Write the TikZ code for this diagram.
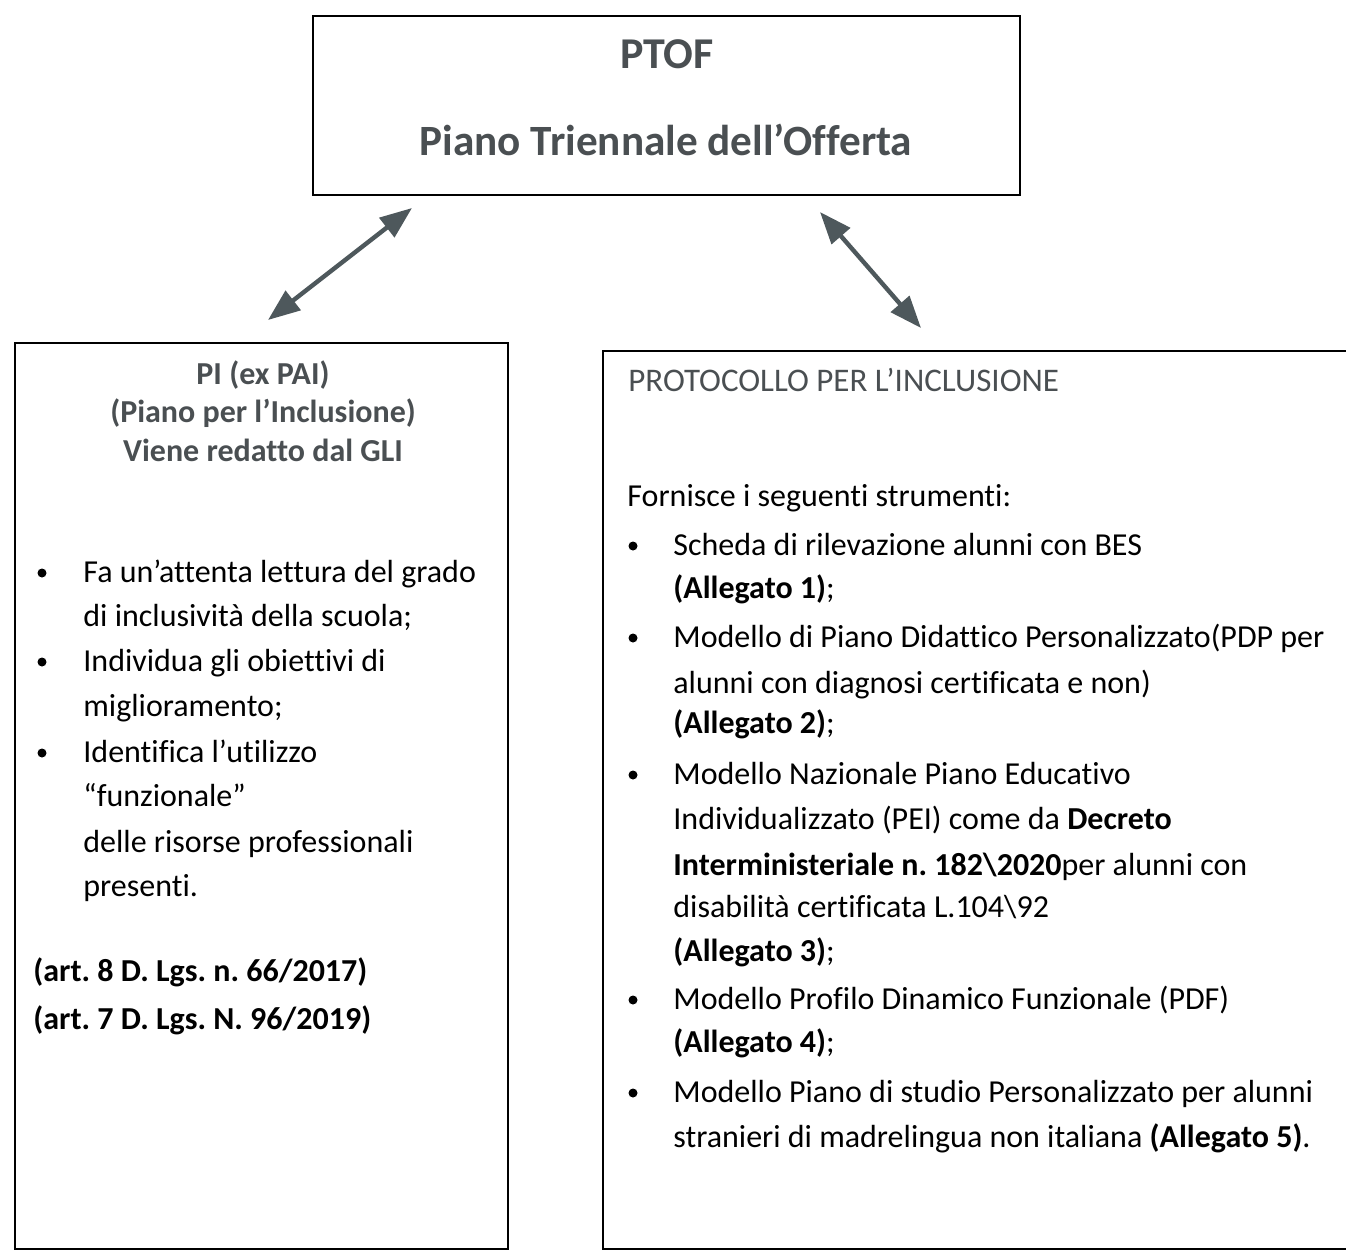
\documentclass[tikz,border=0pt]{standalone}
\usepackage{fontspec}
\setmainfont[Ligatures=CommonOff]{Carlito}
\usepackage{tikz}
\usetikzlibrary{arrows.meta, positioning}
\definecolor{titlegray}{HTML}{4A4F52}
\definecolor{arrowgray}{HTML}{4E585C}
\frenchspacing

\begin{document}
\begin{tikzpicture}[x=0.5pt, y=-0.5pt,
  framebox/.style={draw, line width=1pt, inner sep=0pt},
  bodytxt/.style={anchor=base west, inner sep=0pt, font=\fontsize{16}{19}\selectfont},
  headtxt/.style={anchor=base, inner sep=0pt, text=titlegray,
                  font=\bfseries\fontsize{16}{19}\selectfont},
  dot/.style={circle, fill=black, inner sep=0pt, minimum size=4.5pt},
  biarrow/.style={{Triangle[length=16pt,width=12pt]}-{Triangle[length=16pt,width=12pt]},
                  line width=2.2pt, draw=arrowgray},
]
  \useasboundingbox (0,0) rectangle (1346,1253);
  \clip (0,0) rectangle (1346,1253);

  % boxes
  \node[framebox, minimum width=353.5pt, minimum height=89.5pt] (ptof) at (666.5,105.5) {};
  \node[framebox, minimum width=246.5pt, minimum height=453pt] (pi) at (261.5,796) {};
  \node[framebox, minimum width=383.5pt, minimum height=449pt] (proto) at (986.5,800) {};

  % PTOF
  \node[headtxt, font=\bfseries\fontsize{22}{26}\selectfont] (ptoft) at (667,68) {PTOF};
  \node[headtxt, font=\bfseries\fontsize{21.6}{26}\selectfont] (ptofn) at (666,155)
    {Piano Triennale dell’Offerta};

  % double arrows
  \coordinate (pa) at (268,320);
  \coordinate (pb) at (412,208);
  \coordinate (qa) at (820,212);
  \coordinate (qb) at (921,328);
  \draw[biarrow] (pa) -- (pb);
  \draw[biarrow] (qa) -- (qb);

  % PI box
  \node[headtxt] (pih1) at (263,384) {PI (ex PAI)};
  \node[headtxt] (pih2) at (263,422) {(Piano per l’Inclusione)};
  \node[headtxt] (pih3) at (263,461) {Viene redatto dal GLI};
  \foreach \y in {573,662,753}
    \node[dot] (pd\y) at (42,\y) {};
  \foreach \y/\t [count=\i] in {
      582/{Fa un’attenta lettura del grado},
      626/{di inclusività della scuola;},
      671/{Individua gli obiettivi di},
      716/{miglioramento;},
      762/{Identifica l’utilizzo},
      806/{“funzionale”},
      852/{delle risorse professionali},
      896/{presenti.}}
    \node[bodytxt] (pl\i) at (83,\y) {\t};
  \node[bodytxt, font=\bfseries\fontsize{16}{19}\selectfont] (art1) at (33,981)
    {(art. 8 D. Lgs. n. 66/2017)};
  \node[bodytxt, font=\bfseries\fontsize{16}{19}\selectfont] (art2) at (33,1029)
    {(art. 7 D. Lgs. N. 96/2019)};

  % protocollo box
  \node[bodytxt, text=titlegray, font=\fontsize{16.5}{19}\selectfont] (proth) at (628,391)
    {PROTOCOLLO PER L’INCLUSIONE};
  \node[bodytxt] (protf) at (627,506) {Fornisce i seguenti strumenti:};
  \foreach \y in {546,638,775,1000,1093}
    \node[dot] (rd\y) at (633,\y) {};
  \foreach \y/\t [count=\i] in {
      555/{Scheda di rilevazione alunni con BES},
      598/{\textbf{(Allegato 1)};},
      647/{Modello di Piano Didattico Personalizzato(PDP per},
      693/{alunni con diagnosi certificata e non)},
      733/{\textbf{(Allegato 2)};},
      784/{Modello Nazionale Piano Educativo},
      829/{Individualizzato (PEI) come da \textbf{Decreto}},
      875/{\textbf{Interministeriale n. 182\textbackslash 2020}per alunni con},
      917/{disabilità certificata L.104\textbackslash 92},
      961/{\textbf{(Allegato 3)};},
      1009/{Modello Profilo Dinamico Funzionale (PDF)},
      1052/{\textbf{(Allegato 4)};},
      1102/{Modello Piano di studio Personalizzato per alunni},
      1147/{stranieri di madrelingua non italiana \textbf{(Allegato 5)}.}}
    \node[bodytxt] (rl\i) at (673,\y) {\t};
\end{tikzpicture}
\end{document}
